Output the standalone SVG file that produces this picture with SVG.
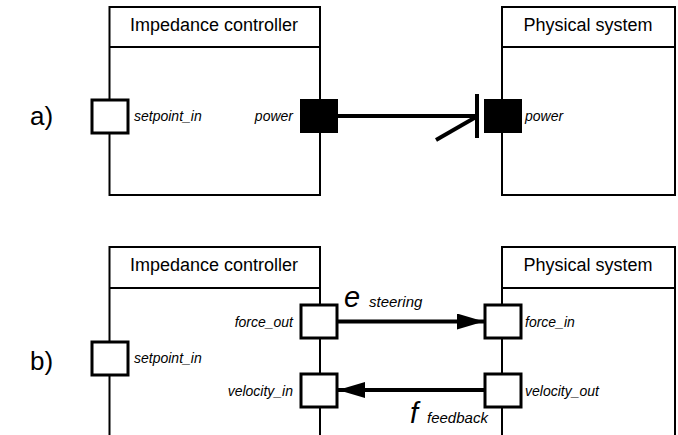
<svg xmlns="http://www.w3.org/2000/svg" width="678" height="435" viewBox="0 0 678 435">
  <style>
    .box { fill: #fff; stroke: #000; stroke-width: 2; }
    .sep { stroke: #000; stroke-width: 2; }
    .port { fill: #fff; stroke: #000; stroke-width: 3; }
    .port-solid { fill: #000; stroke: #000; stroke-width: 2; }
    .title { font-family: "Liberation Sans", Arial, sans-serif; font-size: 18px; text-anchor: middle; }
    .plabel { font-family: "Liberation Sans", Arial, sans-serif; font-size: 14px; font-style: italic; }
    .sub { font-family: "Liberation Sans", Arial, sans-serif; font-size: 15px; font-style: italic; }
    .tag { font-family: "Liberation Sans", Arial, sans-serif; font-size: 26px; }
    .wire { stroke: #000; stroke-width: 4; fill: none; }
    .sym { font-family: "Liberation Sans", Arial, sans-serif; font-size: 29px; font-style: italic; }
  </style>
  <defs>
    <marker id="arrow" markerUnits="userSpaceOnUse" markerWidth="28" markerHeight="18" refX="27" refY="8" orient="auto">
      <polygon points="0,0 27,8 0,16" fill="#000"/>
    </marker>
  </defs>
  <rect width="678" height="435" fill="#fff"/>

  <!-- a) power-port coupling -->
  <text class="tag" x="30" y="125">a)</text>
  <g id="a-controller">
    <rect class="box" x="109.5" y="7" width="210.5" height="188"/>
    <line class="sep" x1="109.5" y1="47" x2="320" y2="47"/>
    <text class="title" x="214" y="31">Impedance controller</text>
    <rect class="port" x="92" y="100" width="36" height="33"/>
    <text class="plabel" x="134" y="121">setpoint_in</text>
    <rect class="port-solid" x="301" y="100" width="36" height="32"/>
    <text class="plabel" x="293" y="121" text-anchor="end">power</text>
  </g>
  <g id="a-physical">
    <rect class="box" x="502" y="7" width="173" height="188"/>
    <line class="sep" x1="502" y1="47" x2="675" y2="47"/>
    <text class="title" x="588" y="31">Physical system</text>
    <rect class="port-solid" x="485" y="100" width="36" height="32"/>
    <text class="plabel" x="525" y="121">power</text>
  </g>

  <!-- b) signal-port coupling -->
  <text class="tag" x="30" y="370">b)</text>
  <g id="b-controller">
    <rect class="box" x="109.5" y="247" width="210.5" height="200"/>
    <line class="sep" x1="109.5" y1="288" x2="320" y2="288"/>
    <text class="title" x="214" y="271">Impedance controller</text>
    <rect class="port" x="301" y="305" width="36" height="33"/>
    <text class="plabel" x="293" y="327" text-anchor="end">force_out</text>
    <rect class="port" x="92" y="342" width="36" height="33"/>
    <text class="plabel" x="134" y="363">setpoint_in</text>
    <rect class="port" x="301" y="374" width="36" height="33"/>
    <text class="plabel" x="293" y="396" text-anchor="end">velocity_in</text>
  </g>
  <g id="b-physical">
    <rect class="box" x="502" y="247" width="173" height="200"/>
    <line class="sep" x1="502" y1="288" x2="675" y2="288"/>
    <text class="title" x="588" y="271">Physical system</text>
    <rect class="port" x="485" y="305" width="36" height="33"/>
    <text class="plabel" x="525" y="327">force_in</text>
    <rect class="port" x="485" y="374" width="36" height="33"/>
    <text class="plabel" x="525" y="396">velocity_out</text>
  </g>

  <g id="connectors">
    <!-- bond between the two power ports, with causal stroke and half-arrow -->
    <line class="wire" x1="337" y1="116" x2="477" y2="116"/>
    <line class="wire" x1="477" y1="94" x2="477" y2="138"/>
    <line class="wire" x1="436" y1="140" x2="476" y2="117"/>
    <!-- signal links -->
    <line class="wire" x1="337" y1="321.5" x2="484" y2="321.5" marker-end="url(#arrow)"/>
    <line class="wire" x1="485" y1="390" x2="338" y2="390" marker-end="url(#arrow)"/>
    <text class="sym" x="344" y="307">e</text>
    <text class="sub" x="369" y="307">steering</text>
    <text class="sym" x="410" y="423">f</text>
    <text class="sub" x="427" y="423">feedback</text>
  </g>
</svg>
